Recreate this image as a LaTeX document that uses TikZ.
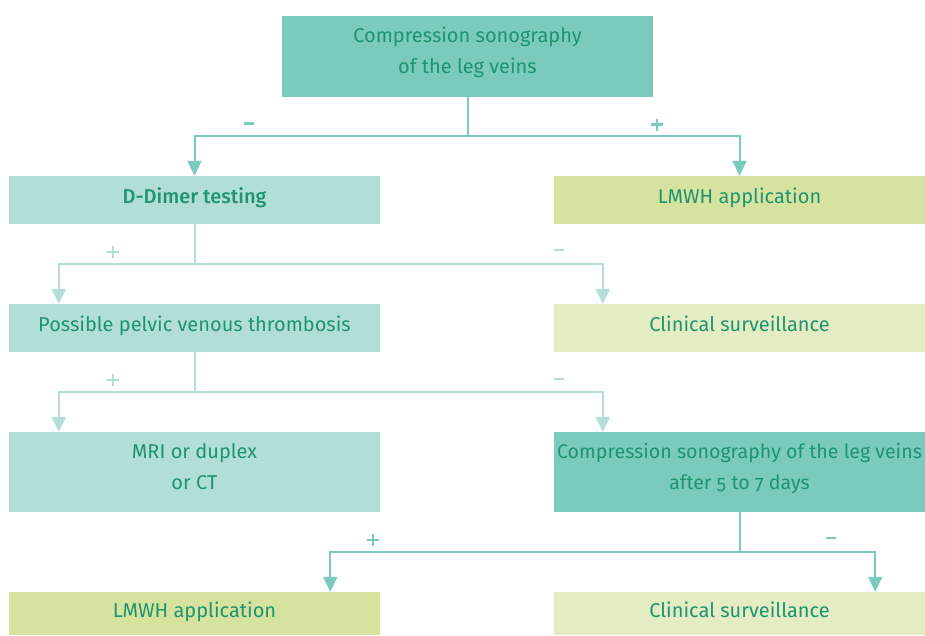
\documentclass[tikz,border=0pt]{standalone}
\usepackage{fontspec}
\setmainfont{Fira Sans}[Numbers=OldStyle]
\newfontfamily\medfont{Fira Sans Medium}
\usetikzlibrary{arrows.meta,calc}
\definecolor{dteal}{HTML}{7ACBBE}
\definecolor{lteal}{HTML}{B2DED8}
\definecolor{lime}{HTML}{D5E39F}
\definecolor{plime}{HTML}{E3ECC3}
\definecolor{txt}{HTML}{1E9470}
\begin{document}
\begin{tikzpicture}[x=1pt,y=-1pt,
  box/.style={rectangle,inner sep=0pt,minimum width=371pt,text=txt,align=center,
    font=\fontsize{20}{31}\selectfont},
  one/.style={box,text height=14pt,text depth=7pt},
  two/.style={box,text depth=12pt},
  conn/.style={line width=2pt},
  arr/.style={conn,-{Triangle[width=14pt,length=15pt]}},
  plus/.style={minimum size=12pt,inner sep=0pt,
    path picture={\draw[line width=2.4pt,#1]
      (path picture bounding box.north) -- (path picture bounding box.south)
      (path picture bounding box.west) -- (path picture bounding box.east);}},
  minus/.style={fill,minimum width=10.5pt,minimum height=2.4pt,inner sep=0pt}]
\useasboundingbox (0,0) rectangle (925,635);
\node[two,fill=dteal,minimum height=81pt] (top) at (467.5,56.5) {Compression sonography\\of the leg veins};
\node[one,fill=lteal,minimum height=48pt] (dd) at (194.5,200) {\medfont D-Dimer testing};
\node[one,fill=lime,minimum height=48pt] (lmwhA) at (739.5,200) {LMWH application};
\node[one,fill=lteal,minimum height=48pt] (pel) at (194.5,328) {Possible pelvic venous thrombosis};
\node[one,fill=plime,minimum height=48pt] (clinA) at (739.5,328) {Clinical surveillance};
\node[two,fill=lteal,minimum height=80pt] (mri) at (194.5,472) {MRI or duplex\\or CT};
\node[two,fill=dteal,minimum height=80pt,font=\fontsize{19.6}{31}\selectfont] (comp) at (739.5,472) {Compression sonography of the leg veins\\after 5 to 7 days};
\node[one,fill=lime,minimum height=43pt] (lmwhB) at (194.5,613.5) {LMWH application};
\node[one,fill=plime,minimum height=43pt] (clinB) at (739.5,613.5) {Clinical surveillance};
% level 1
\coordinate (j1) at ($(top.south)+(0,39)$);
\draw[conn,dteal] (top.south) -- (j1);
\draw[arr,dteal] (j1) -| (dd.north);
\draw[arr,dteal] (j1) -| (lmwhA.north);
\node[minus,dteal] (m1) at (249,123.5) {};
\node[plus=dteal] (p1) at (657,124.5) {};
% level 2
\coordinate (j2) at ($(dd.south)+(0,40)$);
\coordinate (t2a) at ($(pel.north west)+(50,0)$);
\coordinate (t2b) at ($(clinA.north west)+(49,0)$);
\draw[conn,lteal] (dd.south) -- (j2);
\draw[arr,lteal] (j2) -| (t2a);
\draw[arr,lteal] (j2) -| (t2b);
\node[plus=lteal] (p2) at (113,252) {};
\node[minus,lteal] (m2) at (559,250) {};
% level 3
\coordinate (j3) at ($(pel.south)+(0,40)$);
\coordinate (t3a) at ($(mri.north west)+(50,0)$);
\coordinate (t3b) at ($(comp.north west)+(49,0)$);
\draw[conn,lteal] (pel.south) -- (j3);
\draw[arr,lteal] (j3) -| (t3a);
\draw[arr,lteal] (j3) -| (t3b);
\node[plus=lteal] (p3) at (113,380) {};
\node[minus,lteal] (m3) at (559,379) {};
% level 4
\coordinate (j4) at ($(comp.south)+(0,40)$);
\coordinate (t4a) at ($(lmwhB.north east)+(-50,0)$);
\coordinate (t4b) at ($(clinB.north east)+(-50,0)$);
\draw[conn,dteal] (comp.south) -- (j4);
\draw[arr,dteal] (j4) -| (t4a);
\draw[arr,dteal] (j4) -| (t4b);
\node[plus=dteal] (p4) at (373,540) {};
\node[minus,dteal] (m4) at (831,538) {};
\end{tikzpicture}
\end{document}
